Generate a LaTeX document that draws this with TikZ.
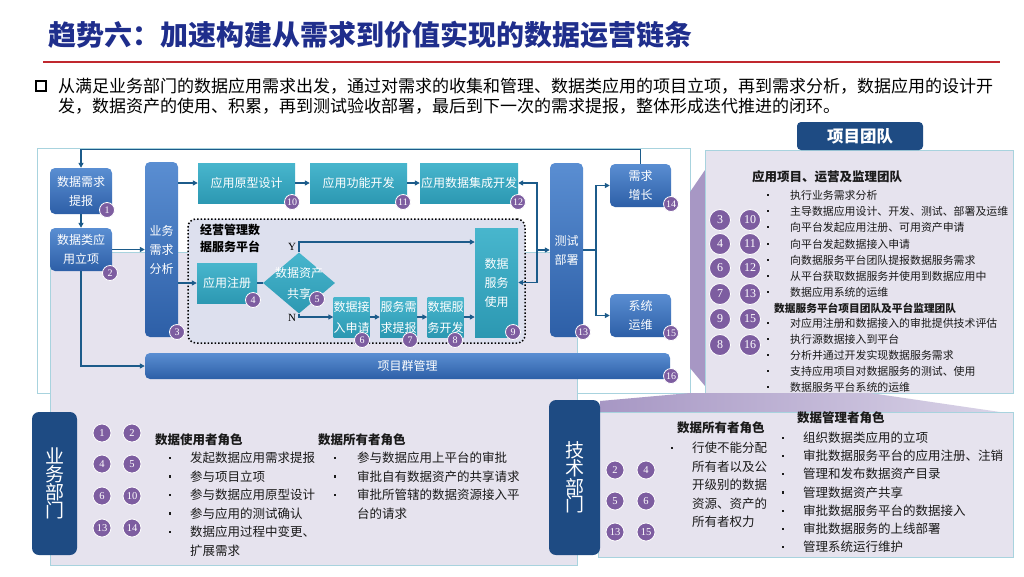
\documentclass[tikz,border=0pt]{standalone}
\usepackage{fontspec}
\setmainfont{Noto Sans CJK SC}
\newfontfamily\serifnum{Liberation Serif}
\usetikzlibrary{shapes.geometric,arrows.meta}
\definecolor{navy}{HTML}{1F2E8C}
\definecolor{redl}{HTML}{C0282E}
\definecolor{boxT}{HTML}{5A8ED2}
\definecolor{boxB}{HTML}{2D5FA7}
\definecolor{tealT}{HTML}{48B6CD}
\definecolor{tealB}{HTML}{2C98B2}
\definecolor{lineC}{HTML}{1C5B8A}
\definecolor{badgeC}{HTML}{7D5DA0}
\definecolor{lav}{HTML}{E6E3EE}
\definecolor{platF}{HTML}{DDE0EE}
\definecolor{bordC}{HTML}{A8D3DE}
\definecolor{tabC}{HTML}{1E4B83}
\definecolor{wedgeC}{HTML}{A797C4}
\definecolor{wedgeL}{HTML}{D9D3E7}
\definecolor{txtC}{HTML}{1A1A1A}
\tikzset{
  bluebox/.style={rounded corners=5, top color=boxT, bottom color=boxB, text=white, align=center, inner sep=0, font=\fontsize{12}{19}\selectfont},
  tealbox/.style={top color=tealT, bottom color=tealB, text=white, align=center, inner sep=0, font=\fontsize{12}{19}\selectfont},
  arr/.style={draw=lineC, line width=1.3, -{Triangle[length=5,width=5]}},
  ln/.style={draw=lineC, line width=1.3},
  badge/.style={circle, fill=badgeC, draw=white, line width=0.8, text=white, inner sep=0, minimum size=15, font=\serifnum\fontsize{10}{10}\selectfont},
  badgeL/.style={badge, minimum size=21, font=\serifnum\fontsize{12}{12}\selectfont},
  badgeM/.style={badge, minimum size=18, font=\serifnum\fontsize{10.5}{10.5}\selectfont},
  txt/.style={anchor=west, inner sep=0, text=txtC, font=\fontsize{12.5}{12.5}\selectfont},
  txts/.style={anchor=west, inner sep=0, text=txtC, font=\fontsize{10.9}{10.9}\selectfont},
  headb/.style={anchor=west, inner sep=0, text=txtC, font=\fontsize{12.5}{12.5}\selectfont\bfseries},
  dot/.style={rectangle, fill=txtC, inner sep=0, minimum size=2.4},
  tab/.style={fill=tabC, rounded corners=7, text=white, align=center, inner sep=0, font=\fontsize{19}{17.5}\selectfont},
  intro/.style={anchor=west, inner sep=0, text=black, font=\fontsize{17}{17}\selectfont},
}
\begin{document}
\begin{tikzpicture}[x=1pt,y=-1pt]
\useasboundingbox (0,0) rectangle (1024,576);
\fill[white] (0,0) rectangle (1024,576);
% title
\node[anchor=west,inner sep=0,text=navy,font=\fontsize{28}{28}\selectfont\bfseries] (title) at (48,35) {趋势六：加速构建从需求到价值实现的数据运营链条};
\draw[redl,line width=2.5] (43,62) -- (1000,62);
\node[draw=black,line width=1.6,minimum size=10,inner sep=0] (sq) at (41,86) {};
\node[intro] (l1) at (58,86) {从满足业务部门的数据应用需求出发，通过对需求的收集和管理、数据类应用的项目立项，再到需求分析，数据应用的设计开};
\node[intro] (l2) at (58,106) {发，数据资产的使用、积累，再到测试验收部署，最后到下一次的需求提报，整体形成迭代推进的闭环。};

% backgrounds
\draw[bordC,line width=1,fill=white] (37,148) rectangle (690,393);
\fill[wedgeC] (690,192) -- (705,170) -- (705,386) -- (690,368) -- cycle;
\draw[bordC,line width=1,fill=lav] (705,150) rectangle (1013,393);
\draw[bordC,line width=1,fill=lav] (50,252) rectangle (577,565);
\shade[left color=wedgeC,right color=wedgeL] (600,401) -- (690,393) -- (870,393) -- (1000,412) -- (600,412) -- cycle;
\draw[bordC,line width=1,fill=lav] (598,412) rectangle (1013,557);
\node[tab, minimum width=45, minimum height=143] (tabB) at (54.5,483.5) {业\\务\\部\\门};
\node[tab, minimum width=51, minimum height=155] (tabT) at (574.5,477.5) {技\\术\\部\\门};
\node[fill=tabC, rounded corners=4, minimum width=126, minimum height=28, inner sep=0, text=white, font=\fontsize{16.5}{16.5}\selectfont\bfseries] (hdr) at (860,136) {项目团队};

% platform
\node[draw=black, line width=1.5, dotted, rounded corners=8, fill=platF, minimum width=337, minimum height=124, inner sep=0] (plat) at (356.5,281) {};
\node[anchor=west, align=left, inner sep=0, text=black, font=\fontsize{12}{17}\selectfont\bfseries] (platL) at (200,238.5) {经营管理数\\据服务平台};

% boxes
\node[bluebox, minimum width=62, minimum height=46] (b1) at (81,191) {数据需求\\提报};
\node[bluebox, minimum width=62, minimum height=43] (b2) at (81,249.5) {数据类应\\用立项};
\node[bluebox, minimum width=33, minimum height=175] (b3) at (161.5,249.5) {业务\\需求\\分析};
\node[tealbox, minimum width=97, minimum height=40] (b10) at (246.5,183) {应用原型设计};
\node[tealbox, minimum width=97, minimum height=40] (b11) at (358.5,183) {应用功能开发};
\node[tealbox, minimum width=98, minimum height=40] (b12) at (469,183) {应用数据集成开发};
\node[tealbox, minimum width=60, minimum height=40] (b4) at (227,283) {应用注册};
\node[diamond, top color=tealT, bottom color=tealB, minimum width=72, minimum height=61, inner sep=0] (b5) at (299,283) {};
\node[text=white, align=center, inner sep=0, font=\fontsize{12}{21}\selectfont] (b5t) at (299,283.5) {数据资产\\共享};
\node[tealbox, minimum width=33, minimum height=40, font=\fontsize{12}{21}\selectfont] (b6) at (351.5,317) {数据接\\入申请};
\node[tealbox, minimum width=37, minimum height=40, font=\fontsize{12}{21}\selectfont] (b7) at (398.5,317) {服务需\\求提报};
\node[tealbox, minimum width=35, minimum height=40, font=\fontsize{12}{21}\selectfont] (b8) at (445.5,317) {数据服\\务开发};
\node[tealbox, minimum width=43, minimum height=109] (b9) at (496.5,282.5) {数据\\服务\\使用};
\node[bluebox, minimum width=33, minimum height=174] (b13) at (566.5,250) {测试\\部署};
\node[bluebox, minimum width=61, minimum height=43] (b14) at (640.5,185.5) {需求\\增长};
\node[bluebox, minimum width=61, minimum height=43] (b15) at (640.5,315.5) {系统\\运维};
\node[bluebox, minimum width=525, minimum height=26] (b16) at (407.5,366) {项目群管理};
\node[inner sep=0, text=black, font=\serifnum\fontsize{11}{11}\selectfont] (yl) at (292,247) {Y};
\node[inner sep=0, text=black, font=\serifnum\fontsize{11}{11}\selectfont] (nl) at (292,318) {N};

% connectors
\coordinate (yY) at (0,242);
\coordinate (tj) at (537,250);
\coordinate (tk) at (596,250);
\draw[arr] (b1.south) -- (b2.north);
\draw[arr] (b14.north) -- ++(0,-14) -| (b1.north);
\draw[arr] (b2.east) -- (b3.west |- b2.east);
\draw[arr] (b2.south) |- (b16.west);
\draw[arr] (b3.east |- b10.west) -- (b10.west);
\draw[arr] (b10.east) -- (b11.west);
\draw[arr] (b11.east) -- (b12.west);
\draw[arr] (b3.east |- b4.west) -- (b4.west);
\draw[ln] (b4.east) -- (b5.west);
\draw[arr] (b5.north) |- (b9.west |- yY);
\draw[arr] (b5.south) |- (b6.west);
\draw[arr] (b6.east) -- (b7.west);
\draw[arr] (b7.east) -- (b8.west);
\draw[arr] (b8.east) -- (b9.west |- b8.east);
\draw[arr] (tj) -- (b13.west);
\draw[arr] (tj) |- (b12.east);
\draw[arr] (tj) |- (b9.east);
\draw[ln] (b13.east) -- (tk);
\draw[arr] (tk) |- (b14.west);
\draw[arr] (tk) |- (b15.west);

% badges main
\node[badge] (c1) at (107,210) {1};
\node[badge] (c2) at (110,273) {2};
\node[badge] (c3) at (177,332) {3};
\node[badge] (c4) at (253,300) {4};
\node[badge] (c5) at (317,299) {5};
\node[badge] (c6) at (362,340) {6};
\node[badge] (c7) at (410,340) {7};
\node[badge] (c8) at (455,340) {8};
\node[badge] (c9) at (513,332) {9};
\node[badge] (c10) at (292,202) {10};
\node[badge] (c11) at (403,202) {11};
\node[badge] (c12) at (518,202) {12};
\node[badge] (c13) at (583,332) {13};
\node[badge] (c14) at (671,204) {14};
\node[badge] (c15) at (671,333) {15};
\node[badge] (c16) at (671,376) {16};

% right panel badges
\foreach \a/\b/\yy [count=\i] in {3/10/220,4/11/244,6/12/268,7/13/294,9/15/319,8/16/345}{
  \node[badgeL] (ra\i) at (720,\yy) {\a};
  \node[badgeL] (rb\i) at (750,\yy) {\b};
}
% right panel text
\node[headb] (rh1) at (752,177) {应用项目、运营及监理团队};
\foreach \yy/\tx [count=\i] in {195/执行业务需求分析, 211/主导数据应用设计、开发、测试、部署及运维, 227/向平台发起应用注册、可用资产申请, 244/向平台发起数据接入申请, 260/向数据服务平台团队提报数据服务需求, 276/从平台获取数据服务并使用到数据应用中, 292/数据应用系统的运维}{
  \node[dot] (rd\i) at (768,\yy) {};
  \node[txts] (rt\i) at (790,\yy) {\tx};
}
\node[headb, font=\fontsize{10.7}{10.7}\selectfont\bfseries] (rh2) at (774,308) {数据服务平台项目团队及平台监理团队};
\foreach \yy/\tx [count=\i] in {323/对应用注册和数据接入的审批提供技术评估, 339/执行源数据接入到平台, 355/分析并通过开发实现数据服务需求, 371/支持应用项目对数据服务的测试、使用, 387/数据服务平台系统的运维}{
  \node[dot] (re\i) at (768,\yy) {};
  \node[txts] (rs\i) at (790,\yy) {\tx};
}

% bottom left
\foreach \a/\b/\yy [count=\i] in {1/2/433,4/5/464,6/10/496,13/14/528}{
  \node[badgeM] (ua\i) at (102,\yy) {\a};
  \node[badgeM] (ub\i) at (132,\yy) {\b};
}
\node[headb] (u1) at (155,440) {数据使用者角色};
\foreach \yy/\tx [count=\i] in {458/发起数据应用需求提报, 476.5/参与项目立项, 495/参与数据应用原型设计, 513.5/参与应用的测试确认, 532/数据应用过程中变更、}{
  \node[dot] (ud\i) at (170,\yy) {};
  \node[txt] (ut\i) at (190,\yy) {\tx};
}
\node[txt] (ut6) at (190,550.5) {扩展需求};
\node[headb] (u2) at (318,440) {数据所有者角色};
\foreach \yy/\tx [count=\i] in {458/参与数据应用上平台的审批, 476.5/审批自有数据资产的共享请求, 495/审批所管辖的数据资源接入平}{
  \node[dot] (vd\i) at (335,\yy) {};
  \node[txt] (vt\i) at (357,\yy) {\tx};
}
\node[txt] (vt4) at (357,513.5) {台的请求};

% bottom right
\foreach \a/\b/\yy [count=\i] in {2/4/470,5/6/501,13/15/532}{
  \node[badgeM] (ta\i) at (615,\yy) {\a};
  \node[badgeM] (tb\i) at (646,\yy) {\b};
}
\node[headb] (t1) at (677,428) {数据所有者角色};
\node[dot] (td0) at (672,448) {};
\foreach \yy/\tx [count=\i] in {448/行使不能分配, 466.5/所有者以及公, 485/开级别的数据, 503.5/资源、资产的, 522/所有者权力}{
  \node[txt] (tt\i) at (692,\yy) {\tx};
}
\node[headb] (t2) at (797,418) {数据管理者角色};
\foreach \yy/\tx [count=\i] in {438/组织数据类应用的立项, 456/审批数据服务平台的应用注册、注销, 474/管理和发布数据资产目录, 492.5/管理数据资产共享, 511/审批数据服务平台的数据接入, 529/审批数据服务的上线部署, 547/管理系统运行维护}{
  \node[dot] (md\i) at (783,\yy) {};
  \node[txt] (mt\i) at (803,\yy) {\tx};
}
\end{tikzpicture}
\end{document}
